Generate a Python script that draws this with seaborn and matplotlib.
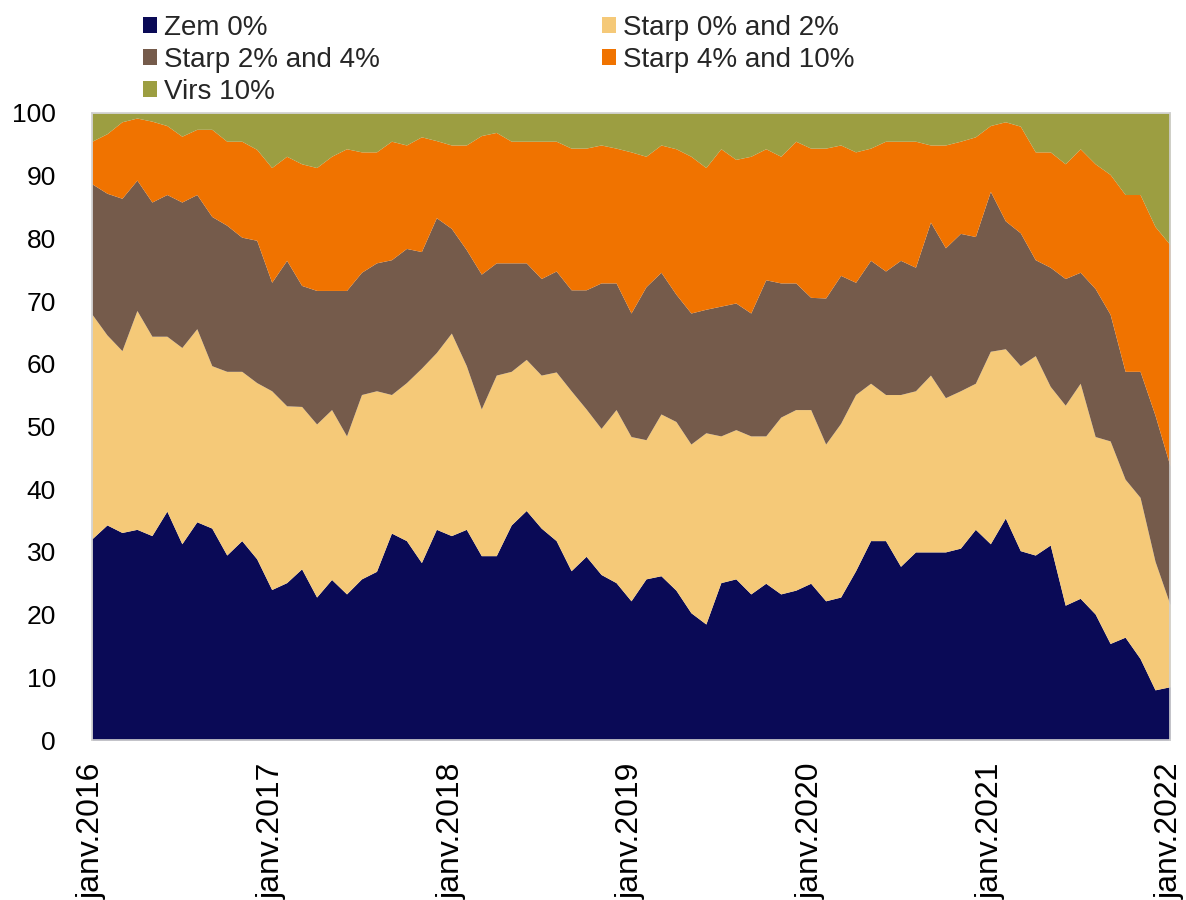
import numpy as np
import pandas as pd
import matplotlib
matplotlib.use("Agg")
import matplotlib.pyplot as plt
from matplotlib.patches import Patch
import seaborn as sns

# ---------------- data (shares in %, monthly Jan 2016 .. Jan 2022) ----------------
zem_0 = [
    32.1, 34.3, 33.1, 33.6, 32.6, 36.5, 31.3, 34.8, 33.8, 29.5, 31.8, 28.9,
    24.0, 25.1, 27.3, 22.8, 25.6, 23.3, 25.7, 26.9, 33.0, 31.8, 28.3, 33.6,
    32.6, 33.6, 29.4, 29.4, 34.3, 36.6, 33.8, 31.8, 27.0, 29.3, 26.4, 25.1,
    22.2, 25.7, 26.2, 23.9, 20.3, 18.5, 25.1, 25.7, 23.3, 25.0, 23.3, 23.9,
    25.0, 22.2, 22.8, 27.0, 31.8, 31.8, 27.7, 30.0, 30.0, 30.0, 30.6, 33.6,
    31.3, 35.4, 30.2, 29.5, 31.1, 21.5, 22.6, 20.1, 15.4, 16.4, 13.0, 8.0,
    8.5,
]
starp_0_2 = [
    35.8, 30.3, 29.0, 34.9, 31.8, 27.9, 31.3, 30.8, 25.9, 29.3, 27.0, 28.1,
    31.7, 28.2, 25.9, 27.6, 27.1, 25.2, 29.4, 28.8, 22.1, 25.2, 31.0, 28.2,
    32.3, 26.1, 23.4, 28.8, 24.5, 24.1, 24.4, 26.9, 28.7, 23.5, 23.3, 27.6,
    26.2, 22.2, 25.8, 26.9, 26.9, 30.5, 23.4, 23.8, 25.2, 23.5, 28.2, 28.8,
    27.7, 25.0, 27.7, 28.1, 25.1, 23.3, 27.4, 25.7, 28.2, 24.6, 25.1, 23.3,
    30.7, 27.0, 29.5, 31.8, 25.3, 31.9, 34.3, 28.3, 32.3, 25.2, 25.7, 20.5,
    13.1,
]
starp_2_4 = [
    20.8, 22.6, 24.3, 20.8, 21.4, 22.6, 23.2, 21.4, 23.8, 23.3, 21.4, 22.7,
    17.3, 23.2, 19.3, 21.3, 19.0, 23.2, 19.5, 20.4, 21.5, 21.4, 18.6, 21.5,
    16.7, 18.5, 21.5, 17.9, 17.3, 15.4, 15.4, 16.1, 16.1, 19.0, 23.2, 20.2,
    19.7, 24.4, 22.6, 20.3, 20.9, 19.7, 20.7, 20.2, 19.6, 24.9, 21.4, 20.2,
    17.9, 23.3, 23.6, 17.9, 19.6, 19.7, 21.4, 19.7, 24.4, 23.9, 25.1, 23.4,
    25.5, 20.4, 21.2, 15.3, 19.0, 20.2, 17.7, 23.6, 20.2, 17.2, 20.1, 23.3,
    22.1,
]
starp_4_10 = [
    6.8, 9.5, 12.2, 9.9, 12.9, 11.0, 10.5, 10.4, 13.9, 13.4, 15.3, 14.5,
    18.3, 16.6, 19.4, 19.6, 21.4, 22.6, 19.2, 17.7, 18.9, 16.5, 18.3, 12.3,
    13.3, 16.7, 22.1, 20.8, 19.4, 19.4, 21.9, 20.7, 22.6, 22.6, 22.0, 21.5,
    25.7, 20.8, 20.3, 23.2, 25.0, 22.6, 25.1, 22.9, 25.0, 20.9, 20.2, 22.6,
    23.8, 23.9, 20.8, 20.8, 17.9, 20.7, 19.0, 20.1, 12.3, 16.4, 14.7, 15.9,
    10.5, 15.8, 17.0, 17.2, 18.4, 18.3, 19.7, 19.9, 22.3, 28.2, 28.2, 30.1,
    35.3,
]
virs_10 = [
    4.5, 3.3, 1.4, 0.8, 1.3, 2.0, 3.7, 2.6, 2.6, 4.5, 4.5, 5.8,
    8.7, 6.9, 8.1, 8.7, 6.9, 5.7, 6.2, 6.2, 4.5, 5.1, 3.8, 4.4,
    5.1, 5.1, 3.6, 3.1, 4.5, 4.5, 4.5, 4.5, 5.6, 5.6, 5.1, 5.6,
    6.2, 6.9, 5.1, 5.7, 6.9, 8.7, 5.7, 7.4, 6.9, 5.7, 6.9, 4.5,
    5.6, 5.6, 5.1, 6.2, 5.6, 4.5, 4.5, 4.5, 5.1, 5.1, 4.5, 3.8,
    2.0, 1.4, 2.1, 6.2, 6.2, 8.1, 5.7, 8.1, 9.8, 13.0, 13.0, 18.1,
    21.0,
]
series_labels = ["Zem 0%", "Starp 0% and 2%", "Starp 2% and 4%",
                 "Starp 4% and 10%", "Virs 10%"]
tick_labels = ["janv.2016", "janv.2017", "janv.2018", "janv.2019",
               "janv.2020", "janv.2021", "janv.2022"]

# ---------------- styling ----------------
colors = ["#0a0a56", "#f5c978", "#755b4b", "#f07300", "#9c9e41"]
sns.set_theme(style="white")
plt.rcParams["font.family"] = ["Liberation Sans", "DejaVu Sans"]

df = pd.DataFrame({
    "month": np.arange(len(zem_0)),
    series_labels[0]: zem_0,
    series_labels[1]: starp_0_2,
    series_labels[2]: starp_2_4,
    series_labels[3]: starp_4_10,
    series_labels[4]: virs_10,
})

fig = plt.figure(figsize=(11.86, 9), dpi=100)
ax = fig.add_axes([92 / 1186, 1 - 740 / 900, (1170 - 92) / 1186, (740 - 113) / 900])

ax.stackplot(df["month"], *[df[c] for c in series_labels],
             colors=colors, linewidth=0, antialiased=True)

ax.set_xlim(0, len(zem_0) - 1)
ax.set_ylim(0, 100)
ax.set_yticks(np.arange(0, 101, 10))
ax.set_xticks(np.arange(0, len(zem_0), 12))
ax.set_xticklabels(tick_labels, rotation=90, fontsize=23, color="black")
ax.tick_params(axis="y", length=0, pad=26, labelsize=19, labelcolor="black")
ax.tick_params(axis="x", direction="in", length=9, width=1.2,
               color="#d0d0d0", pad=16)
for s in ax.spines.values():
    s.set_color("#d0d0d0")
    s.set_linewidth(1.2)
ax.grid(False)

# legend: row-wise order (2 columns)
order = [0, 2, 4, 1, 3]
handles = [Patch(facecolor=colors[i], edgecolor="none") for i in order]
labels = [series_labels[i] for i in order]
fig.legend(handles, labels, loc="upper left",
           bbox_to_anchor=(143 / 1186, 1 - 15 / 900), ncol=2, frameon=False,
           fontsize=20, handlelength=0.5, handleheight=0.5,
           handletextpad=0.25, labelspacing=0.22, columnspacing=8.0,
           borderpad=0, borderaxespad=0)

fig.savefig("out.png", dpi=100)
